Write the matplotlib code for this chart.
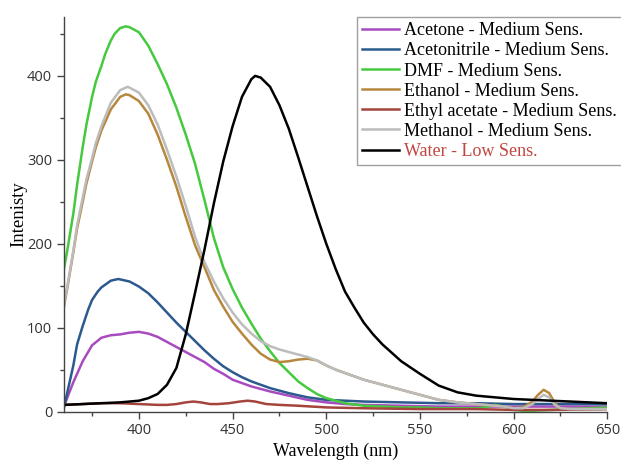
import numpy as np
import matplotlib.pyplot as plt
from matplotlib.ticker import MultipleLocator

# emission spectra, intensity vs wavelength (nm)
wl_acetone = [360, 362, 365, 370, 375, 380, 385, 390, 395, 400, 405, 410, 415, 420, 425, 430, 435, 440,
              445, 450, 455, 460, 465, 470, 480, 490, 500, 510, 520, 540, 560, 580, 600, 620, 650]
acetone = [6, 18, 35, 60, 79, 88, 91, 92, 94, 95, 93, 89, 83, 77, 71, 65, 59, 51,
           45, 38, 34, 30, 27, 24, 19, 14, 11, 9, 8, 7, 6, 6, 6, 6, 6]

wl_acn = [360, 362, 365, 367, 370, 373, 375, 378, 380, 385, 389, 395, 400, 405, 410, 415, 420, 425,
          430, 435, 440, 445, 450, 455, 460, 465, 470, 480, 490, 500, 510, 520, 540, 560, 580, 600,
          620, 650]
acn = [5, 25, 55, 80, 102, 122, 133, 143, 148, 156, 158, 155, 149, 141, 130, 118, 106, 95,
       84, 73, 63, 54, 47, 41, 36, 32, 28, 22, 17, 14, 13, 12, 11, 10, 10, 9,
       9, 9]

wl_dmf = [360, 362, 365, 367, 370, 372, 375, 377, 380, 382, 385, 387, 390, 393, 395, 400, 405, 410,
          415, 420, 425, 430, 435, 440, 445, 450, 455, 460, 465, 470, 475, 480, 485, 490, 495, 500,
          510, 520, 530, 540, 550, 560, 570, 580, 585, 590, 595, 600, 605, 610, 620, 630, 640, 650]
dmf = [170, 195, 236, 270, 315, 342, 375, 393, 412, 426, 442, 450, 457, 459, 458, 452, 436, 414,
       390, 362, 330, 295, 252, 207, 172, 146, 124, 105, 87, 72, 58, 47, 36, 28, 21, 16,
       10, 7, 6, 5, 5, 4, 4, 4, 5, 8, 6, 2, 1, 1, 2, 3, 4, 5]

wl_etoh = [360, 362, 365, 367, 370, 372, 375, 377, 380, 385, 390, 393, 395, 400, 405, 410, 415, 420,
           425, 430, 435, 440, 445, 450, 455, 460, 465, 470, 475, 480, 485, 490, 495, 500, 505, 510,
           520, 530, 540, 550, 560, 570, 580, 590, 595, 600, 605, 610, 613, 616, 619, 622, 625, 630,
           640, 650]
etoh = [125, 150, 190, 218, 250, 272, 298, 315, 335, 360, 375, 378, 377, 370, 355, 330, 300, 268,
        232, 198, 172, 145, 125, 107, 93, 80, 69, 62, 59, 60, 62, 63, 61, 55, 50, 46,
        38, 32, 26, 20, 14, 11, 9, 7, 6, 4, 5, 12, 20, 26, 22, 10, 4, 3,
        3, 3]

wl_etac = [360, 370, 380, 390, 400, 410, 415, 420, 425, 429, 433, 438, 442, 448, 454, 458, 462, 468,
           475, 485, 500, 520, 550, 580, 600, 620, 650]
etac = [8, 9, 10, 10, 9, 8, 8, 9, 11, 12, 11, 9, 9, 10, 12, 13, 12, 9,
        8, 7, 5, 4, 3, 3, 2, 2, 3]

wl_meoh = [360, 362, 365, 367, 370, 372, 375, 377, 380, 385, 390, 394, 395, 400, 405, 410, 415, 420,
           425, 430, 435, 440, 445, 450, 455, 460, 465, 470, 475, 480, 485, 490, 495, 500, 505, 510,
           520, 530, 540, 550, 560, 570, 580, 590, 595, 600, 605, 610, 613, 616, 619, 622, 625, 630,
           640, 650]
meoh = [128, 152, 192, 222, 255, 277, 302, 320, 340, 368, 383, 387, 386, 380, 365, 342, 312, 280,
        245, 208, 178, 155, 135, 118, 104, 93, 84, 78, 74, 71, 68, 65, 61, 55, 50, 46,
        38, 32, 26, 20, 14, 11, 9, 7, 6, 4, 4, 9, 15, 20, 17, 8, 4, 3,
        3, 3]

wl_water = [360, 370, 380, 390, 400, 405, 410, 415, 420, 425, 430, 435, 440, 445, 450, 455, 460, 462,
            465, 470, 475, 480, 485, 490, 495, 500, 505, 510, 515, 520, 525, 530, 540, 550, 560, 570,
            580, 590, 600, 610, 620, 630, 640, 650]
water = [8, 9, 10, 11, 13, 16, 21, 32, 52, 92, 142, 193, 248, 298, 340, 375, 396, 400,
         398, 387, 365, 337, 303, 268, 233, 200, 170, 143, 124, 106, 92, 80, 60, 45, 31, 23,
         19, 17, 15, 14, 13, 12, 11, 10]

series = [
    (wl_acetone, acetone, '#a94bc0', 'Acetone - Medium Sens.'),
    (wl_acn, acn, '#2c5a8e', 'Acetonitrile - Medium Sens.'),
    (wl_dmf, dmf, '#45c93e', 'DMF - Medium Sens.'),
    (wl_etoh, etoh, '#b7873e', 'Ethanol - Medium Sens.'),
    (wl_etac, etac, '#a4443c', 'Ethyl acetate - Medium Sens.'),
    (wl_meoh, meoh, '#bcbcbc', 'Methanol - Medium Sens.'),
    (wl_water, water, '#000000', 'Water - Low Sens.'),
]

fig = plt.figure(figsize=(6.21, 4.63), dpi=100)
ax = fig.add_axes([0.103, 0.111, 0.875, 0.852])

for x, y, c, lab in series:
    ax.plot(x, y, color=c, lw=1.8, label=lab, solid_joinstyle='round')

ax.set_xlim(360, 650)
ax.set_ylim(0, 470)
ax.xaxis.set_minor_locator(MultipleLocator(25))
ax.set_xticks([400, 450, 500, 550, 600, 650])
ax.set_yticks([0, 100, 200, 300, 400])
ax.yaxis.set_minor_locator(MultipleLocator(50))

for s in ['top', 'right']:
    ax.spines[s].set_visible(False)
for s in ['left', 'bottom']:
    ax.spines[s].set_color('#444444')
    ax.spines[s].set_linewidth(1.0)

ax.tick_params(which='major', direction='out', length=5, width=1, color='#444444',
               labelsize=10.5, labelcolor='#333333')
ax.tick_params(which='minor', direction='out', length=3, width=1, color='#444444')
for t in ax.get_xticklabels() + ax.get_yticklabels():
    t.set_family('Open Sans')

ax.set_xlabel('Wavelength (nm)', family='Liberation Serif', fontsize=13, labelpad=3)
ax.set_ylabel('Intenisty', family='Liberation Serif', fontsize=13.5, labelpad=0)

leg = fig.legend(loc='upper left', bbox_to_anchor=(357 / 621, 1 - 17 / 463),
                 prop={'family': 'Liberation Serif', 'size': 13},
                 frameon=True, fancybox=False, borderpad=0.3, borderaxespad=0,
                 handlelength=2.0, handletextpad=0.3, labelspacing=0.17)
leg.get_frame().set_edgecolor('#888888')
leg.get_frame().set_linewidth(1.0)
for txt in leg.get_texts():
    if txt.get_text().startswith('Water'):
        txt.set_color('#c0473f')

fig.savefig('out.png', dpi=100)
